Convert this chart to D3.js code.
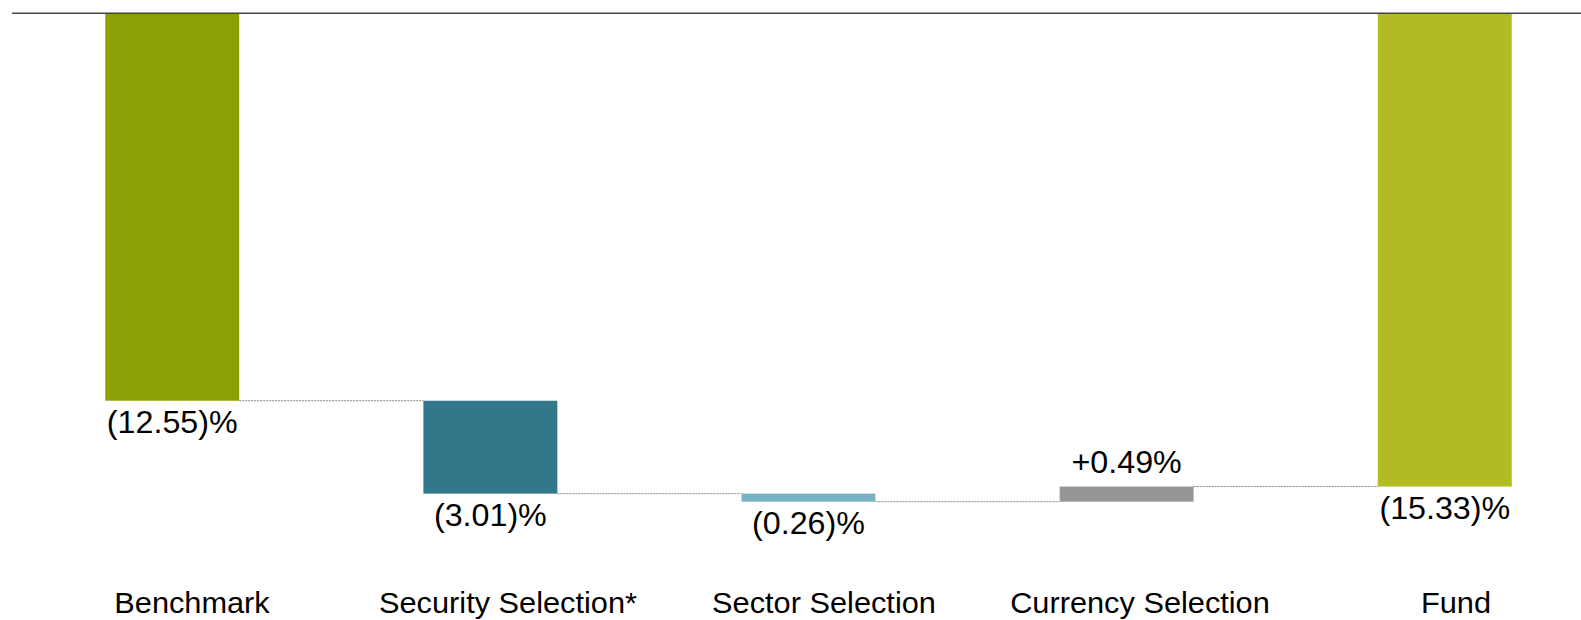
<!DOCTYPE html>
<html>
<head>
<meta charset="utf-8">
<script src="https://cdn.jsdelivr.net/npm/d3@7"></script>
<style>
  html, body { margin: 0; padding: 0; background: #fff; }
  svg { display: block; }
  text { font-family: "Liberation Sans", Arial, sans-serif; fill: #000; }
</style>
</head>
<body>
<svg id="chart" width="1581" height="620"></svg>
<script>
const categories = ["Benchmark", "Security Selection*", "Sector Selection", "Currency Selection", "Fund"];
const values = [-12.55, -3.01, -0.26, 0.49, -15.33];
const isTotal = [true, false, false, false, true];
const valueLabels = ["(12.55)%", "(3.01)%", "(0.26)%", "+0.49%", "(15.33)%"];
const colors = ["#8ca004", "#33788a", "#78b3c4", "#969696", "#b0bc22"];

const svg = d3.select("#chart");
const W = 1581, H = 620;

const x = d3.scaleBand().domain(categories).range([13, 1604]).paddingInner(0.579).paddingOuter(0.29);
const xLab = d3.scalePoint().domain(categories).range([192, 1456]);
const y = d3.scaleLinear().domain([0, -20]).range([13.3, 13.3 + 20 * 30.87]);

// compute waterfall segments
let run = 0;
const segs = categories.map((c, i) => {
  let start, end;
  if (isTotal[i]) { start = 0; end = values[i]; }
  else { start = run; end = run + values[i]; }
  run = end;
  return { c, i, start, end, v: values[i] };
});

// connectors
for (let i = 0; i < segs.length - 1; i++) {
  const s = segs[i], n = segs[i + 1];
  svg.append("line")
    .attr("x1", x(s.c) + x.bandwidth())
    .attr("x2", x(n.c))
    .attr("y1", y(s.end)).attr("y2", y(s.end))
    .attr("stroke", "#8a8a8a").attr("stroke-width", 1)
    .attr("stroke-dasharray", "2,1");
}

// bars
svg.selectAll("rect.bar").data(segs).join("rect")
  .attr("class", "bar")
  .attr("x", d => x(d.c))
  .attr("width", x.bandwidth())
  .attr("y", d => y(Math.max(d.start, d.end)))
  .attr("height", d => Math.abs(y(d.end) - y(d.start)))
  .attr("fill", d => colors[d.i]);

// zero line
svg.append("line")
  .attr("x1", 12).attr("x2", W)
  .attr("y1", y(0)).attr("y2", y(0))
  .attr("stroke", "#444").attr("stroke-width", 1.6);

// value labels
svg.selectAll("text.val").data(segs).join("text")
  .attr("class", "val")
  .attr("text-anchor", "middle")
  .attr("font-size", 31)
  .attr("transform", d => {
    const cx = x(d.c) + x.bandwidth() / 2;
    const lo = y(Math.min(d.start, d.end));
    const hi = y(Math.max(d.start, d.end));
    const by = d.v >= 0 ? hi - 14 : lo + 32;
    return `translate(${cx},${by}) scale(1.04,1)`;
  })
  .text(d => valueLabels[d.i]);

// category labels
svg.selectAll("text.cat").data(categories).join("text")
  .attr("class", "cat")
  .attr("text-anchor", "middle")
  .attr("font-size", 29)
  .attr("transform", d => `translate(${xLab(d)},612.7) scale(1.06,1)`)
  .text(d => d);
</script>
</body>
</html>
